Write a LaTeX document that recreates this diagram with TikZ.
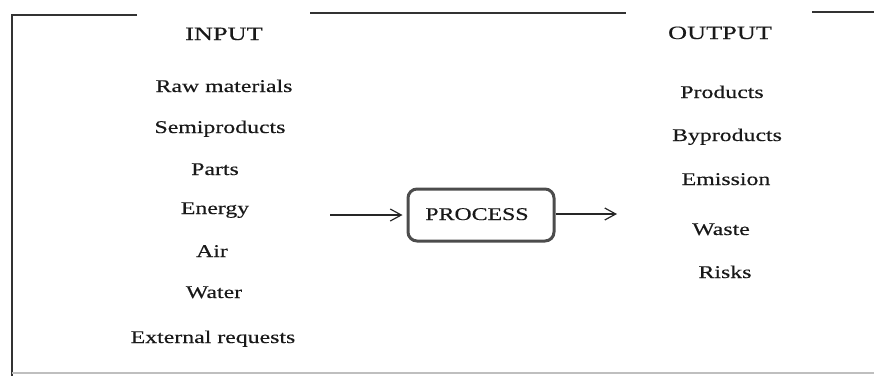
\documentclass[tikz,border=0pt]{standalone}
\usepackage{fontspec}
\setmainfont[FakeStretch=1.33,FakeBold=0.4]{Liberation Serif}
\newfontfamily\headfont[FakeStretch=1.4,FakeBold=0.4]{Liberation Serif}
\usetikzlibrary{arrows.meta}
\tikzset{
  item/.style={anchor=base, inner sep=0pt, font=\fontsize{17.9}{20}\selectfont, text=black!90},
  head/.style={anchor=base, inner sep=0pt, font=\headfont\fontsize{18.8}{21}\selectfont, text=black!90},
  frameline/.style={line width=2.2pt, draw=black!80},
  procbox/.style={draw=black!70, line width=3pt, rounded corners=9pt, minimum width=146pt, minimum height=52pt, inner sep=0pt},
  flow/.style={line width=1.2pt, draw=black!85, -{Straight Barb[length=11pt,width=12pt,line width=1.2pt]}}
}
\begin{document}
\begin{tikzpicture}[x=1pt,y=-1pt]
\useasboundingbox (0,0) rectangle (874,376);
% frame
\draw[frameline] (137,15) -- (12,15) -- (12,376);
\draw[frameline] (310,13) -- (626,13);
\draw[frameline] (812,12) -- (874,12);
\draw[line width=1.5pt, draw=black!25] (12,373) -- (874,373);
% headings
\node[head] (input) at (224,40) {INPUT};
\node[head] (output) at (720,39) {OUTPUT};
% inputs
\node[item] (raw) at (224,92) {Raw materials};
\node[item] (semi) at (220,133) {Semiproducts};
\node[item] (parts) at (215,175) {Parts};
\node[item] (energy) at (215,214) {Energy};
\node[item] (air) at (212,257) {Air};
\node[item] (water) at (214,298) {Water};
\node[item] (ext) at (213,343) {External requests};
% outputs
\node[item] (prod) at (722,98) {Products};
\node[item] (byprod) at (727,141) {Byproducts};
\node[item] (emis) at (726,185) {Emission};
\node[item] (waste) at (721,235) {Waste};
\node[item] (risks) at (725,278) {Risks};
% process
\node[procbox] (proc) at (481,215) {};
\node[item] (proclabel) at (477,220) {PROCESS};
\coordinate (inflow) at (330,215);
\coordinate (outflow) at (617,214);
\draw[flow, shorten >=4pt] (inflow) -- (inflow -| proc.west);
\draw[flow] (proc.east |- outflow) -- (outflow);
\end{tikzpicture}
\end{document}
